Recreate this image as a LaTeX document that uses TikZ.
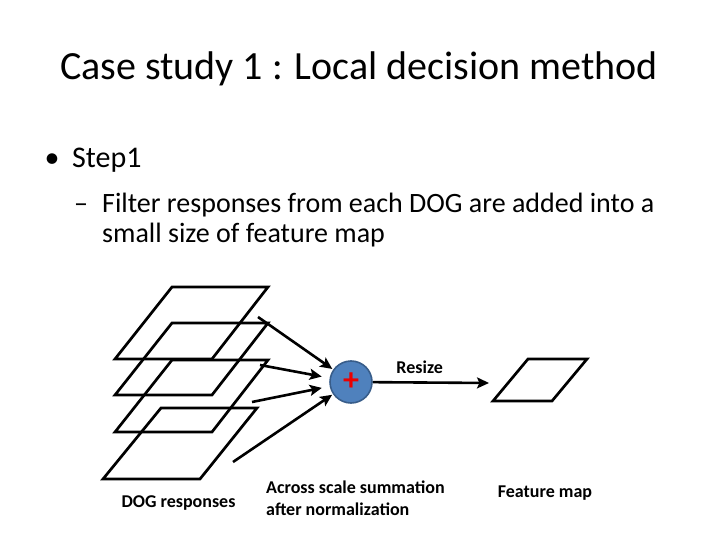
\documentclass[tikz,border=0pt]{standalone}
\usepackage{fontspec}
\setmainfont{Carlito}
\usepackage{xcolor}
\usetikzlibrary{arrows.meta, positioning}
\definecolor{sumblue}{RGB}{79,129,189}
\definecolor{sumedge}{RGB}{56,93,138}
\definecolor{plusred}{RGB}{235,0,0}

\begin{document}
\begin{tikzpicture}[x=1pt, y=-1pt, >=Stealth,
    map/.style={line width=2.7pt, line join=miter},
    flow/.style={line width=2.6pt, shorten >=1pt, arrows={-Stealth[length=12pt, width=11pt, inset=2.5pt]}},
    lbl/.style={inner sep=0pt, font=\fontsize{18}{22}\selectfont\bfseries}]
        \useasboundingbox (0,0) rectangle (720,540);
        % heading and bullets
        \node[inner sep=0pt, anchor=base, font=\fontsize{40}{48}\selectfont]
              (title) at (359,80) {Case study 1 : Local decision method};
        \node[inner sep=0pt, anchor=base, font=\fontsize{30}{36}\selectfont]
              (bullet) at (52,168) {•};
        \node[inner sep=0pt, anchor=base west, font=\fontsize{30}{36}\selectfont]
              (step) at (72,168) {Step1};
        \node[inner sep=0pt, anchor=base west, font=\fontsize{28}{34}\selectfont]
              (dash) at (74,212) {–};
        \node[inner sep=0pt, anchor=base west, font=\fontsize{28}{34}\selectfont]
              (sub) at (102,212) {Filter responses from each DOG are added into a};
        \node[inner sep=0pt, anchor=base west, font=\fontsize{28}{34}\selectfont]
              (subcont) at (102,242) {small size of feature map};
        % stacked DOG maps
        \foreach \y in {287,323,360}
          \draw[map] (172,\y) -- ++(96,0) -- ++(-56,72) -- ++(-97,0) -- cycle;
        \draw[map] (161,408) -- ++(96,0) -- ++(-57,71) -- ++(-97,0) -- cycle;
        % feature map
        \draw[map] (528,359) -- (587,359) -- (552,401) -- (493,401) -- cycle;
        % summation
        \node[circle, draw=sumedge, fill=sumblue, line width=1.6pt, minimum size=42pt, inner sep=0pt]
              (sum) at (351,382) {};
        \node[inner sep=0pt, text=plusred, font=\fontsize{32}{32}\selectfont\bfseries]
              (plus) at (351,382) {+};
        \coordinate (s1) at (258,317);
        \coordinate (s2) at (260,365);
        \coordinate (s3) at (252,402);
        \coordinate (s4) at (233,462);
        \coordinate (out) at (490,383);
        \draw[flow] (s1) -- (sum);
        \draw[flow, shorten >=8pt] (s2) -- (sum);
        \draw[flow, shorten >=8pt] (s3) -- (sum);
        \draw[flow] (s4) -- (sum);
        \draw[flow] (sum) -- node[lbl, pos=0.4, anchor=base, yshift=8.5pt]{Resize} (out);
        % captions
        \node[lbl, anchor=base] (doglbl) at (178.5,507) {DOG responses};
        \node[lbl, anchor=base west] (sumlbl) at (266,493) {Across scale summation};
        \node[lbl, anchor=base west] (sumlbl2) at (266,515) {after normalization};
        \node[lbl, anchor=base] (fmlbl) at (545,497) {Feature map};
      \end{tikzpicture}
\end{document}
